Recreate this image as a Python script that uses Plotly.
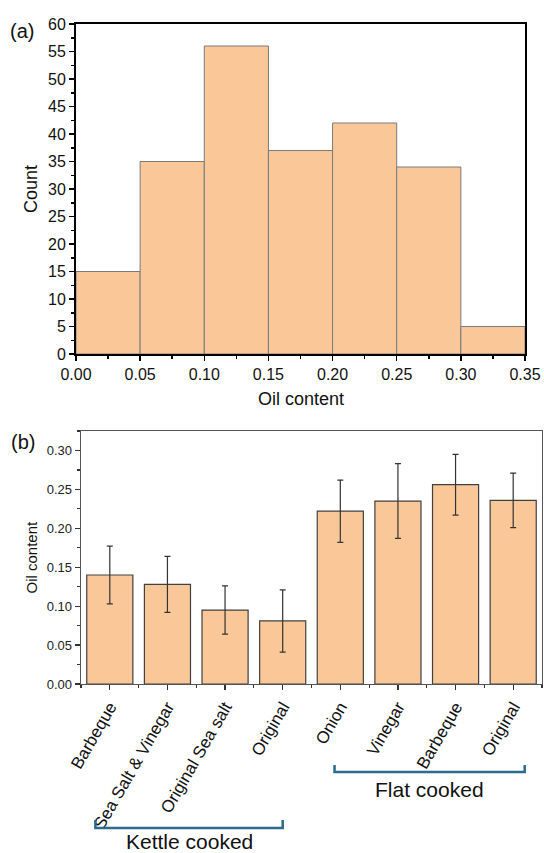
import plotly.graph_objects as go

# ---------------- data ----------------
# (a) histogram of oil content
bin_edges = [0.00, 0.05, 0.10, 0.15, 0.20, 0.25, 0.30, 0.35]
counts = [15, 35, 56, 37, 42, 34, 5]

# (b) mean oil content per product
categories = ["Barbeque", "Sea Salt & Vinegar", "Original Sea salt", "Original",
              "Onion", "Vinegar", "Barbeque", "Original"]
oil_means = [0.140, 0.128, 0.095, 0.081, 0.222, 0.235, 0.256, 0.236]
oil_errors = [0.037, 0.036, 0.031, 0.040, 0.040, 0.048, 0.039, 0.035]
groups = ["Kettle cooked", "Flat cooked"]

W, H = 544, 853
FONT = "Liberation Sans, Arial, sans-serif"
FILL = "#FAC898"
BRACKET = "#2B6B8E"

def px_x(p):
    return p / W

def px_y(p):
    return 1 - p / H

bin_centers = [(bin_edges[i] + bin_edges[i + 1]) / 2 for i in range(len(counts))]
bin_width = bin_edges[1] - bin_edges[0]
idx = list(range(len(categories)))

fig = go.Figure()

fig.add_trace(go.Bar(
    x=bin_centers, y=counts, width=bin_width,
    marker=dict(color=FILL, line=dict(color="#7a7a7a", width=1)),
    xaxis="x", yaxis="y", showlegend=False,
))

fig.add_trace(go.Bar(
    x=idx, y=oil_means, width=0.8,
    marker=dict(color=FILL, line=dict(color="#404040", width=1.2)),
    error_y=dict(type="data", array=oil_errors, color="#333333", thickness=1.2, width=3),
    xaxis="x2", yaxis="y2", showlegend=False,
))

# panel geometry (pixels)
a_l, a_r, a_t, a_b = 76, 525, 24, 354
b_l, b_r, b_t, b_b = 81, 542, 431, 684

fig.update_layout(
    width=W, height=H,
    margin=dict(l=0, r=0, t=0, b=0, autoexpand=False),
    paper_bgcolor="white", plot_bgcolor="white",
    font=dict(family=FONT, color="#111111"),
    xaxis=dict(
        domain=[px_x(a_l), px_x(a_r)], anchor="y", range=[0, 0.35], automargin=False,
        tickmode="linear", tick0=0, dtick=0.05, tickformat=".2f",
        showline=True, mirror=True, linecolor="black", linewidth=2,
        ticks="outside", ticklen=5, tickwidth=1.5, tickcolor="black",
        minor=dict(ticks="outside", ticklen=3, tickwidth=1.5, tickcolor="black", dtick=0.025, tick0=0),
        showgrid=False, zeroline=False,
        tickfont=dict(size=16, family=FONT, color="#111111"),
    ),
    yaxis=dict(
        domain=[px_y(a_b), px_y(a_t)], anchor="x", range=[0, 60], automargin=False,
        tickmode="linear", tick0=0, dtick=5,
        showline=True, mirror=True, linecolor="black", linewidth=2,
        ticks="outside", ticklen=5, tickwidth=1.5, tickcolor="black",
        minor=dict(ticks="outside", ticklen=3, tickwidth=1.5, tickcolor="black", dtick=2.5, tick0=0),
        showgrid=False, zeroline=False,
        tickfont=dict(size=16, family=FONT, color="#111111"),
    ),
    xaxis2=dict(
        domain=[px_x(b_l), px_x(b_r)], anchor="y2", range=[-0.5, 7.5], automargin=False,
        tickmode="array", tickvals=idx, ticktext=categories, tickangle=-60,
        showline=True, mirror=True, linecolor="#555555", linewidth=1.3,
        ticks="outside", ticklen=5, tickwidth=1.2, tickcolor="#333333",
        minor=dict(ticks="outside", ticklen=3, tickwidth=1.2, tickcolor="#333333",
                   tickmode="linear", tick0=-0.5, dtick=1),
        showgrid=False, zeroline=False,
        tickfont=dict(size=17, family=FONT, color="#111111"),
    ),
    yaxis2=dict(
        domain=[px_y(b_b), px_y(b_t)], anchor="x2", range=[0, 0.325], automargin=False,
        tickmode="linear", tick0=0, dtick=0.05, tickformat=".2f",
        showline=True, mirror=True, linecolor="#555555", linewidth=1.3,
        ticks="outside", ticklen=5, tickwidth=1.2, tickcolor="#333333",
        minor=dict(ticks="outside", ticklen=3, tickwidth=1.2, tickcolor="#333333", dtick=0.025, tick0=0),
        showgrid=False, zeroline=False,
        tickfont=dict(size=13, family=FONT, color="#222222"),
    ),
)

def label(text, x, y, size, angle=0, xref="paper"):
    return dict(text=text, x=x, y=px_y(y), xref=xref, yref="paper",
                xanchor="center", yanchor="middle", textangle=angle,
                showarrow=False, font=dict(size=size, family=FONT, color="#111111"))

annotations = [
    label("(a)", px_x(22), 31, 20),
    label("(b)", px_x(23), 442, 20),
    label("Count", px_x(31), (a_t + a_b) / 2, 18, -90),
    label("Oil content", px_x((a_l + a_r) / 2), 399, 18),
    label("Oil content", px_x(31), (b_t + b_b) / 2, 15, -90),
]

# group brackets under the category labels
bracket_specs = [
    (groups[0], -0.25, 3.0, 820, 828, 841),
    (groups[1], 3.9, 7.2, 765, 772, 789),
]
shapes = []
for name, x0, x1, ytop, ybot, ytext in bracket_specs:
    shapes.append(dict(
        type="path", xref="x2", yref="paper",
        path=f"M {x0},{px_y(ytop)} L {x0},{px_y(ybot)} L {x1},{px_y(ybot)} L {x1},{px_y(ytop)}",
        line=dict(color=BRACKET, width=2.5),
    ))
    annotations.append(label(name, (x0 + x1) / 2, ytext, 21, xref="x2"))

fig.update_layout(annotations=annotations, shapes=shapes)

fig.write_html(
    "out.html",
    config={"displayModeBar": False, "staticPlot": True},
    post_script="document.body.style.margin='0px';document.body.style.overflow='hidden';",
)
